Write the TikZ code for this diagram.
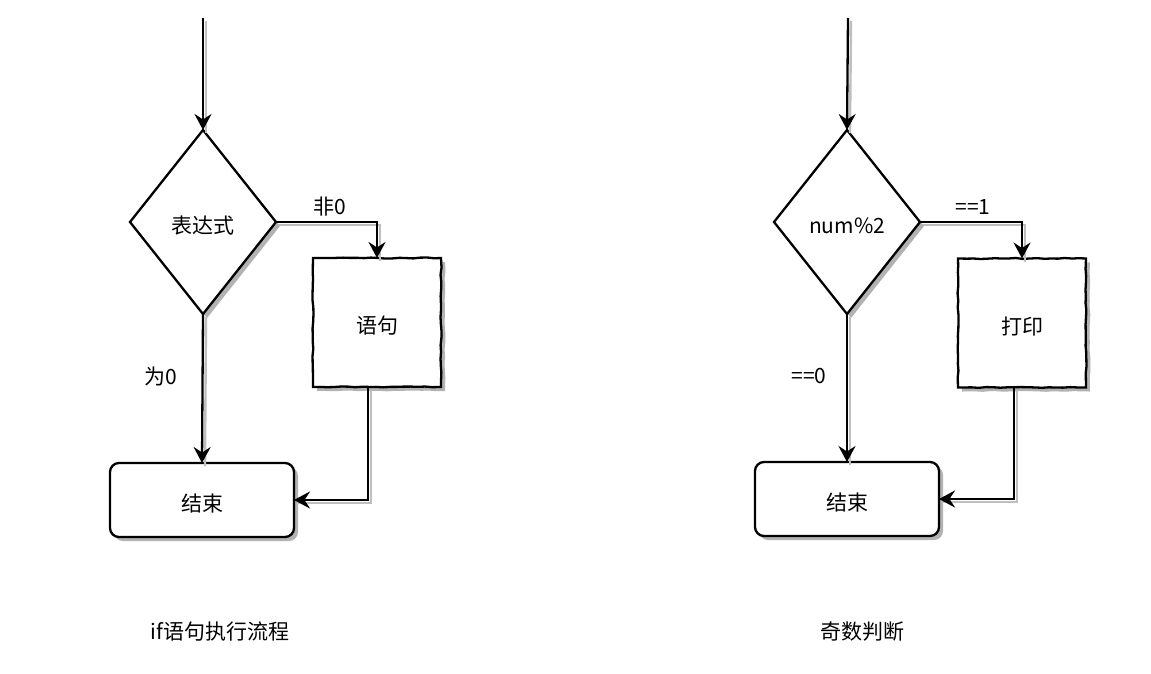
\documentclass[tikz,border=0pt]{standalone}
\usepackage{fontspec}
\setmainfont{Noto Sans CJK SC}
\usetikzlibrary{shapes.geometric,arrows.meta,shadows,decorations.pathmorphing}
\begin{document}
\begin{tikzpicture}[x=1pt,y=-1pt,
  font=\fontsize{21}{25}\selectfont,
  wob/.style={decorate,decoration={random steps,segment length=7pt,amplitude=0.5pt}},
  shad/.style={drop shadow={shadow xshift=4pt,shadow yshift=-4pt,fill=black!30,opacity=1}},
  txt/.style={text height=22pt,text depth=0pt},
  dia/.style={diamond,draw,line width=2.3pt,fill=white,shad,txt,inner sep=0pt,outer sep=0pt,minimum width=146pt,minimum height=184pt},
  proc/.style={rectangle,draw,line width=2.3pt,fill=white,shad,txt,outer sep=0pt,minimum width=128pt,minimum height=129pt,wob},
  term/.style={rectangle,draw,line width=2.3pt,fill=white,shad,txt,outer sep=0pt,rounded corners=9pt,minimum width=184pt,minimum height=74pt},
  conn/.style={line width=2.3pt,-{Stealth[length=16pt,width=17pt,inset=5.5pt]}},
  connsh/.style={line width=2.4pt,black!25},
  lbl/.style={inner sep=0pt},
  sh/.style={shift={(3,3)}}
]
\pgfmathsetseed{7}
\path[use as bounding box,fill=white] (0,0) rectangle (1151,673);

% left diagram
\coordinate (s1) at (203,18);
\node[dia] (d1) at (203,222) {表达式};
\node[proc] (p1) at (377,322.5) {语句};
\node[term] (e1) at (202,500) {结束};
\node[lbl] (l1) at (330,207) {非0};
\node[lbl] (l2) at (161,376) {为0};
\node[lbl] (c1) at (220,632) {if语句执行流程};

% right diagram
\coordinate (s2) at (848,18);
\node[dia] (d2) at (847,222) {num\%2};
\node[proc] (p2) at (1022,323) {打印};
\node[term] (e2) at (847,499) {结束};
\node[lbl] (l3) at (973,207) {==1};
\node[lbl] (l4) at (809,376) {==0};
\node[lbl] (c2) at (862,632) {奇数判断};

% connector shadows
\draw[connsh] ([sh]s1) -- ([sh]d1.north);
\draw[connsh] ([sh]d1.east) -| ([sh]p1.north);
\draw[connsh] ([sh]d1.south) -- ([sh]e1.north);
\draw[connsh] ([sh,xshift=-9]p1.south) |- ([sh]e1.east);
\draw[connsh] ([sh]s2) -- ([sh]d2.north);
\draw[connsh] ([sh]d2.east) -| ([sh]p2.north);
\draw[connsh] ([sh]d2.south) -- ([sh]e2.north);
\draw[connsh] ([sh,xshift=-8]p2.south) |- ([sh]e2.east);

% connectors
\draw[conn] (s1) -- (d1.north);
\draw[conn] (d1.east) -| (p1.north);
\draw[conn] (d1.south) -- (e1.north);
\draw[conn] ([xshift=-9pt]p1.south) |- (e1.east);
\draw[conn] (s2) -- (d2.north);
\draw[conn] (d2.east) -| (p2.north);
\draw[conn] (d2.south) -- (e2.north);
\draw[conn] ([xshift=-8pt]p2.south) |- (e2.east);
\end{tikzpicture}
\end{document}
